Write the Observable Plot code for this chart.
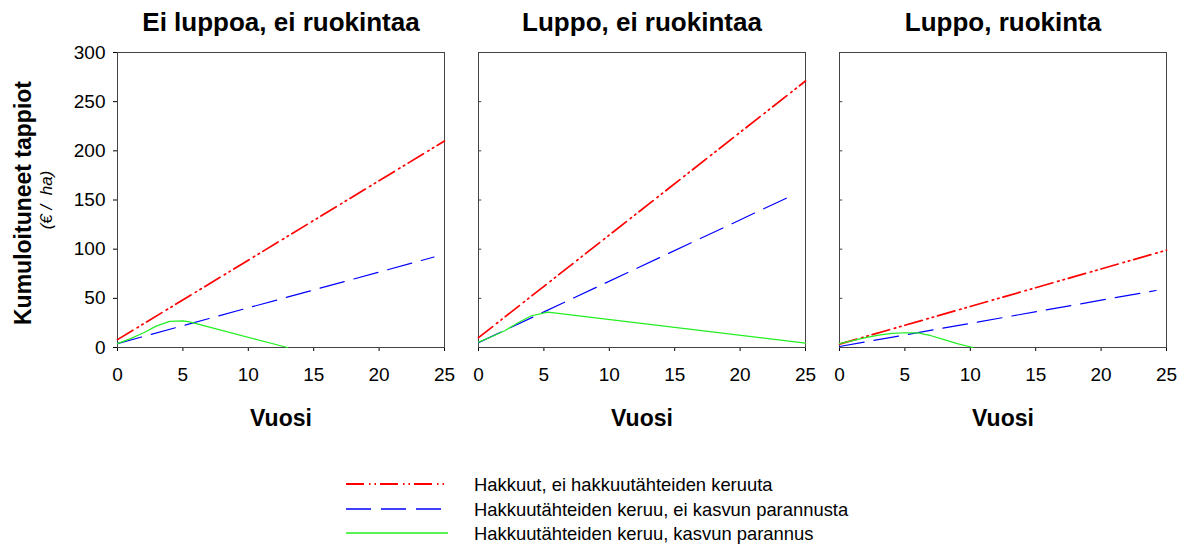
<!DOCTYPE html>
<html>
<head>
<meta charset="utf-8">
<script src="https://cdn.jsdelivr.net/npm/d3@7"></script>
<script src="https://cdn.jsdelivr.net/npm/@observablehq/plot@0.6"></script>
<style>
  body { margin: 0; background: #fff; }
  #chart { width: 1183px; height: 547px; position: relative; font-family: Arial, "Liberation Sans", sans-serif; }
  #legend { position: absolute; left: 0; top: 445px; }
</style>
</head>
<body>
<div id="chart"></div>
<script>
const panels = ["Ei luppoa, ei ruokintaa", "Luppo, ei ruokintaa", "Luppo, ruokinta"];
const seriesNames = [
  "Hakkuut, ei hakkuutähteiden keruuta",
  "Hakkuutähteiden keruu, ei kasvun parannusta",
  "Hakkuutähteiden keruu, kasvun parannus"
];
const seriesColors = ["#ff0000", "#0000ff", "#22ee22"];
const seriesDash = ["18,5,1.5,4,1.5,4", "25,10", null];

const xTicks = [0, 5, 10, 15, 20, 25];
const yTicks = [0, 50, 100, 150, 200, 250, 300];

// Series 1: Hakkuut, ei hakkuutähteiden keruuta
const redYears = [0, 25];
const redP1 = [8, 210];
const redP2 = [10, 271];
const redP3 = [3.5, 99];

// Series 2: Hakkuutähteiden keruu, ei kasvun parannusta
const blueYears = [0, 24.2];
const blueP1 = [4, 92];
const blueP2 = [5, 156];
const blueP3 = [1, 58];

// Series 3: Hakkuutähteiden keruu, kasvun parannus
const greenYearsP1 = [0, 1, 2, 3, 4, 5, 5.5, 13];
const greenP1 = [4, 9, 15, 22, 26.5, 27, 26, 0];
const greenYearsP2 = [0, 1, 2, 3, 4, 5.3, 25];
const greenP2 = [5.5, 11, 17, 25, 32, 36, 4.5];
const greenYearsP3 = [0, 1, 2, 3, 4, 5, 6, 7, 8, 9, 10.2];
const greenP3 = [4, 7, 10, 12.5, 14.3, 15, 14.8, 12, 8, 4, 0];

const yLabel = "Kumuloituneet tappiot";
const yUnit = "(€ /  ha)";
const xLabel = "Vuosi";

function rows(panel, series, years, values) {
  return years.map((year, i) => ({panel, series, year, value: values[i]}));
}
const data = [
  ...rows(panels[0], seriesNames[0], redYears, redP1),
  ...rows(panels[1], seriesNames[0], redYears, redP2),
  ...rows(panels[2], seriesNames[0], redYears, redP3),
  ...rows(panels[0], seriesNames[1], blueYears, blueP1),
  ...rows(panels[1], seriesNames[1], blueYears, blueP2),
  ...rows(panels[2], seriesNames[1], blueYears, blueP3),
  ...rows(panels[0], seriesNames[2], greenYearsP1, greenP1),
  ...rows(panels[1], seriesNames[2], greenYearsP2, greenP2),
  ...rows(panels[2], seriesNames[2], greenYearsP3, greenP3)
];

const innerTicks = panels.slice(1).flatMap(p => yTicks.map(v => ({panel: p, v})));

const lineMarks = seriesNames.map((s, i) =>
  Plot.line(data.filter(d => d.series === s), {
    x: "year", y: "value", fx: "panel",
    stroke: seriesColors[i],
    strokeWidth: i === 0 ? 1.7 : 1.2,
    strokeDasharray: seriesDash[i] || undefined
  })
);

const chart = Plot.plot({
  width: 1183,
  height: 445,
  marginLeft: 116.5,
  marginRight: 17,
  marginTop: 52,
  marginBottom: 98,
  style: {fontFamily: 'Arial, "Liberation Sans", sans-serif', fontSize: "19px", color: "#000", background: "#fff"},
  fx: {domain: panels, axis: null, paddingInner: 0.093, paddingOuter: 0},
  x: {domain: [0, 25], ticks: xTicks, tickSize: 4, tickPadding: 16, label: null},
  y: {domain: [0, 300], ticks: yTicks, tickSize: 4, tickPadding: 8, label: null},
  marks: [
    Plot.frame({stroke: "#444", strokeWidth: 1}),
    Plot.ruleY(innerTicks, {fx: "panel", y: "v", x1: 0, x2: 0.25, stroke: "#444"}),
    ...lineMarks,
    Plot.text(panels, {fx: d => d, text: d => d, frameAnchor: "top", lineAnchor: "middle", dy: -30, fontSize: 26, fontWeight: "bold"}),
    Plot.text([xLabel], {text: d => d, frameAnchor: "bottom", lineAnchor: "middle", dy: 71, fontSize: 23, fontWeight: "bold"}),
    Plot.text([{panel: panels[0], t: yLabel}], {fx: "panel", text: "t", frameAnchor: "left", textAnchor: "middle", rotate: -90, dx: -94, dy: 3, lineAnchor: "middle", fontSize: 23, fontWeight: "bold"}),
    Plot.text([{panel: panels[0], t: yUnit}], {fx: "panel", text: "t", frameAnchor: "left", textAnchor: "middle", rotate: -90, dx: -71, lineAnchor: "middle", fontSize: 17, fontStyle: "italic"})
  ]
});
document.getElementById("chart").appendChild(chart);

// Legend below the chart
const leg = d3.select("#chart").append("svg")
  .attr("id", "legend")
  .attr("width", 1183).attr("height", 102);
const legY = [39, 64, 88];
seriesNames.forEach((s, i) => {
  leg.append("line")
    .attr("x1", 346).attr("x2", 448)
    .attr("y1", legY[i]).attr("y2", legY[i])
    .attr("stroke", seriesColors[i])
    .attr("stroke-width", i === 0 ? 2 : 1.3)
    .attr("stroke-dasharray", seriesDash[i]);
  leg.append("text")
    .attr("x", 474).attr("y", legY[i])
    .attr("dy", "0.36em")
    .attr("font-family", 'Arial, "Liberation Sans", sans-serif')
    .attr("font-size", 18.4)
    .text(s);
});
</script>
</body>
</html>
